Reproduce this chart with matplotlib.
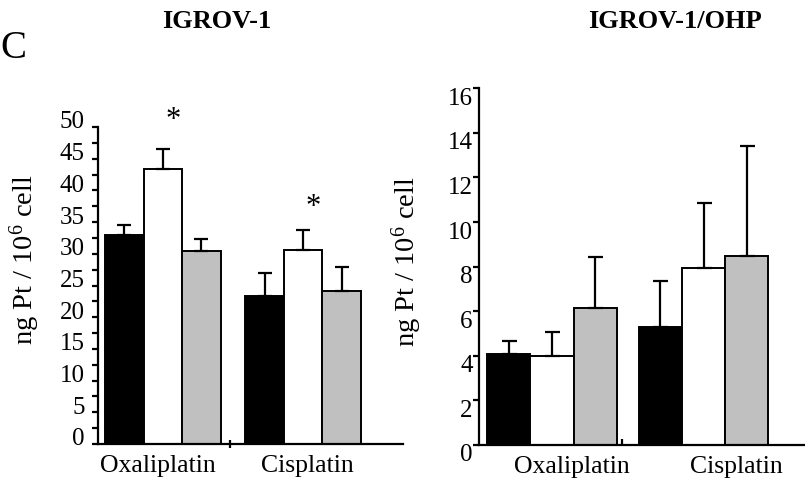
import numpy as np
import matplotlib
matplotlib.use('Agg')
from matplotlib import pyplot as plt
from matplotlib.transforms import ScaledTranslation

plt.rcParams['font.family'] = ['Liberation Serif', 'DejaVu Serif']
plt.rcParams['mathtext.fontset'] = 'custom'
plt.rcParams['mathtext.rm'] = 'Liberation Serif'
plt.rcParams['mathtext.it'] = 'Liberation Serif:italic'

groups = ['Oxaliplatin', 'Cisplatin']
bar_colors = ['black', 'white', '#c0c0c0']

# IGROV-1
sens_means = [[33.0, 43.4, 30.4], [23.4, 30.6, 24.2]]
sens_errs = [[1.5, 3.2, 2.0], [3.5, 3.1, 3.7]]
sens_stars = [51.2, 37.5]

# IGROV-1/OHP
res_means = [[4.08, 3.98, 6.13], [5.31, 7.92, 8.49]]
res_errs = [[0.57, 1.07, 2.29], [2.06, 2.93, 4.90]]

ylabel = r'ng Pt / 10$^{6}$ cell'


def draw_panel(ax, means, errs, width, capsize):
    for g, (m, e) in enumerate(zip(means, errs)):
        xs = g + (np.arange(3) - 1) * width
        ax.bar(xs, m, width=width, color=bar_colors,
               edgecolor='black', linewidth=1.4, zorder=2)
        ax.errorbar(xs, m, yerr=[np.zeros(3), e], fmt='none',
                    ecolor='black', elinewidth=1.6, capsize=capsize,
                    capthick=1.6, zorder=3)
    for s in ['top', 'right']:
        ax.spines[s].set_visible(False)
    for s in ['left', 'bottom']:
        ax.spines[s].set_linewidth(1.6)


def shift_labels(ax, fig, dy):
    off = ScaledTranslation(0, dy / 100, fig.dpi_scale_trans)
    for lab in ax.get_yticklabels():
        lab.set_transform(lab.get_transform() + off)


fig = plt.figure(figsize=(8.05, 4.85), dpi=100)

# left panel
ax1 = fig.add_axes([98 / 805, 40 / 485, 305 / 805, 317 / 485])
draw_panel(ax1, sens_means, sens_errs, 0.275, 4.7)
ax1.set_xlim(-0.464, 1.714)
ax1.set_ylim(0, 50)
ax1.set_yticks(np.arange(0, 51, 5))
ax1.set_yticks(np.arange(2.5, 50, 5), minor=True)
ax1.tick_params(axis='y', which='both', direction='out', length=4.5,
                width=1.6, labelsize=18, pad=5)
ax1.set_xticks([-0.036, 1.03], groups)
ax1.set_xticks([0.48], minor=True)
ax1.tick_params(axis='x', which='major', length=0, labelsize=18.5, pad=7)
ax1.tick_params(axis='x', which='minor', direction='inout', length=6,
                width=1.6)
shift_labels(ax1, fig, 8)
for g, y in enumerate(sens_stars):
    ax1.text(g + 0.07, y, '*', ha='center', va='center', fontsize=22)

# right panel
ax2 = fig.add_axes([479 / 805, 39 / 485, 326 / 805, 356.7 / 485])
draw_panel(ax2, res_means, res_errs, 0.285, 5.4)
ax2.set_xlim(-0.482, 1.67)
ax2.set_ylim(0, 16)
ax2.set_yticks(np.arange(0, 17, 2))
ax2.tick_params(axis='y', direction='out', length=4, width=1.6,
                labelsize=18, pad=0.5)
ax2.set_xticks([0.13, 1.22], groups)
ax2.set_xticks([0.46], minor=True)
ax2.tick_params(axis='x', which='major', length=0, labelsize=18.5, pad=7)
ax2.tick_params(axis='x', which='minor', direction='in', length=4,
                width=1.6)
shift_labels(ax2, fig, -7)

fig.text(25 / 805, 1 - 260 / 485, ylabel, rotation=90, ha='center',
         va='center', fontsize=20.5)
fig.text(407 / 805, 1 - 262 / 485, ylabel, rotation=90, ha='center',
         va='center', fontsize=20.5)

fig.text(217 / 805, 1 - 21 / 485, 'IGROV-1', ha='center', va='center',
         fontsize=19, fontweight='bold')
fig.text(675 / 805, 1 - 21 / 485, 'IGROV-1/OHP', ha='center', va='center',
         fontsize=19, fontweight='bold')
fig.text(0.001, 1 - 48 / 485, 'C', ha='left', va='center', fontsize=28)

fig.savefig('out.png', dpi=100)
